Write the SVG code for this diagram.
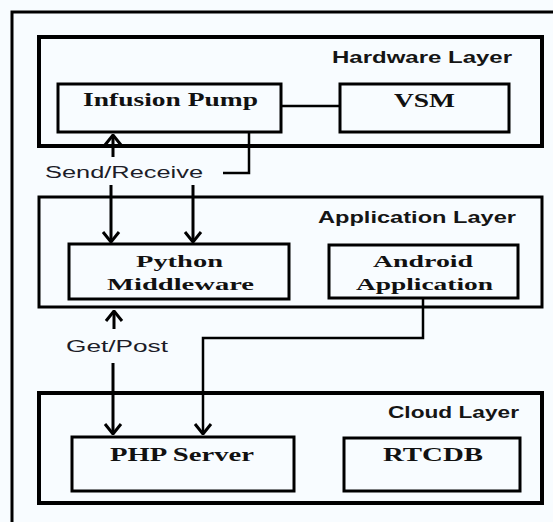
<svg xmlns="http://www.w3.org/2000/svg" width="553" height="522" viewBox="0 0 553 522">
  <defs>
    <style>
      .layer { fill: none; stroke: #000; stroke-width: 4; }
      .box { fill: none; stroke: #000; stroke-width: 3; }
      .frame { fill: none; stroke: #000; stroke-width: 3; }
      .lname { font-family: "Liberation Sans", Arial, sans-serif; font-weight: bold; font-size: 16px; fill: #151515; }
      .nname { font-family: "Liberation Serif", "Times New Roman", serif; font-weight: bold; font-size: 18px; fill: #111; }
      .nname2 { font-family: "Liberation Serif", "Times New Roman", serif; font-weight: bold; font-size: 17px; fill: #111; }
      .elabel { font-family: "Liberation Sans", Arial, sans-serif; font-size: 16px; fill: #1c1c28; }
      .conn { fill: none; stroke: #000; stroke-width: 2.5; }
      .arr { fill: none; stroke: #000; stroke-width: 3; }
    </style>
    <marker id="chev" markerUnits="userSpaceOnUse" viewBox="0 0 12 20" refX="11" refY="10" markerWidth="12" markerHeight="20" orient="auto">
      <path d="M1,2 L11,10 L1,18" fill="none" stroke="#000" stroke-width="3"/>
    </marker>
  </defs>
  <rect width="553" height="522" fill="#f8fcff"/>
  <g id="frame">
    <rect class="frame" x="12" y="12" width="600" height="600"/>
  </g>

  <g id="hardware-layer">
    <rect class="layer" x="39" y="37" width="503" height="109"/>
    <text class="lname" x="332" y="63" textLength="180" lengthAdjust="spacingAndGlyphs">Hardware Layer</text>
  </g>
  <g id="infusion-pump">
    <rect class="box" x="58" y="84" width="223" height="48"/>
    <text class="nname" x="83" y="106" textLength="175" lengthAdjust="spacingAndGlyphs">Infusion Pump</text>
  </g>
  <g id="vsm">
    <rect class="box" x="340" y="84" width="169" height="48"/>
    <text class="nname" x="394" y="107" textLength="61" lengthAdjust="spacingAndGlyphs">VSM</text>
  </g>

  <g id="application-layer">
    <rect class="frame" x="39" y="197" width="503" height="110"/>
    <text class="lname" x="318" y="223" textLength="198" lengthAdjust="spacingAndGlyphs">Application Layer</text>
  </g>
  <g id="python-middleware">
    <rect class="box" x="69" y="244" width="220" height="55"/>
    <text class="nname2" x="136" y="267" textLength="87" lengthAdjust="spacingAndGlyphs">Python</text>
    <text class="nname2" x="107" y="290" textLength="147" lengthAdjust="spacingAndGlyphs">Middleware</text>
  </g>
  <g id="android-application">
    <rect class="box" x="329" y="245" width="189" height="53"/>
    <text class="nname2" x="373" y="267" textLength="100" lengthAdjust="spacingAndGlyphs">Android</text>
    <text class="nname2" x="356" y="290" textLength="137" lengthAdjust="spacingAndGlyphs">Application</text>
  </g>

  <g id="cloud-layer">
    <rect class="layer" x="39" y="393" width="503" height="110"/>
    <text class="lname" x="388" y="418" textLength="131" lengthAdjust="spacingAndGlyphs">Cloud Layer</text>
  </g>
  <g id="php-server">
    <rect class="box" x="72" y="437" width="222" height="54"/>
    <text class="nname" x="110" y="461" textLength="144" lengthAdjust="spacingAndGlyphs">PHP Server</text>
  </g>
  <g id="rtcdb">
    <rect class="box" x="344" y="438" width="176" height="53"/>
    <text class="nname" x="383" y="461" textLength="100" lengthAdjust="spacingAndGlyphs">RTCDB</text>
  </g>

  <g id="connectors">
    <line class="conn" x1="281" y1="106" x2="340" y2="106"/>
    <line class="arr" x1="113" y1="157" x2="113" y2="135" marker-end="url(#chev)"/>
    <polyline class="conn" points="249,132 249,173 223,173"/>
    <line class="arr" x1="111" y1="185" x2="111" y2="242" marker-end="url(#chev)"/>
    <line class="arr" x1="193" y1="185" x2="193" y2="242" marker-end="url(#chev)"/>
    <line class="arr" x1="114" y1="329" x2="114" y2="311" marker-end="url(#chev)"/>
    <polyline class="conn" points="423,298 423,338 203,338 203,434" marker-end="url(#chev)"/>
    <line class="arr" x1="113" y1="363" x2="113" y2="434" marker-end="url(#chev)"/>
    <text class="elabel" x="45" y="178" textLength="158" lengthAdjust="spacingAndGlyphs">Send/Receive</text>
    <text class="elabel" x="66" y="352" textLength="102" lengthAdjust="spacingAndGlyphs">Get/Post</text>
  </g>
</svg>
